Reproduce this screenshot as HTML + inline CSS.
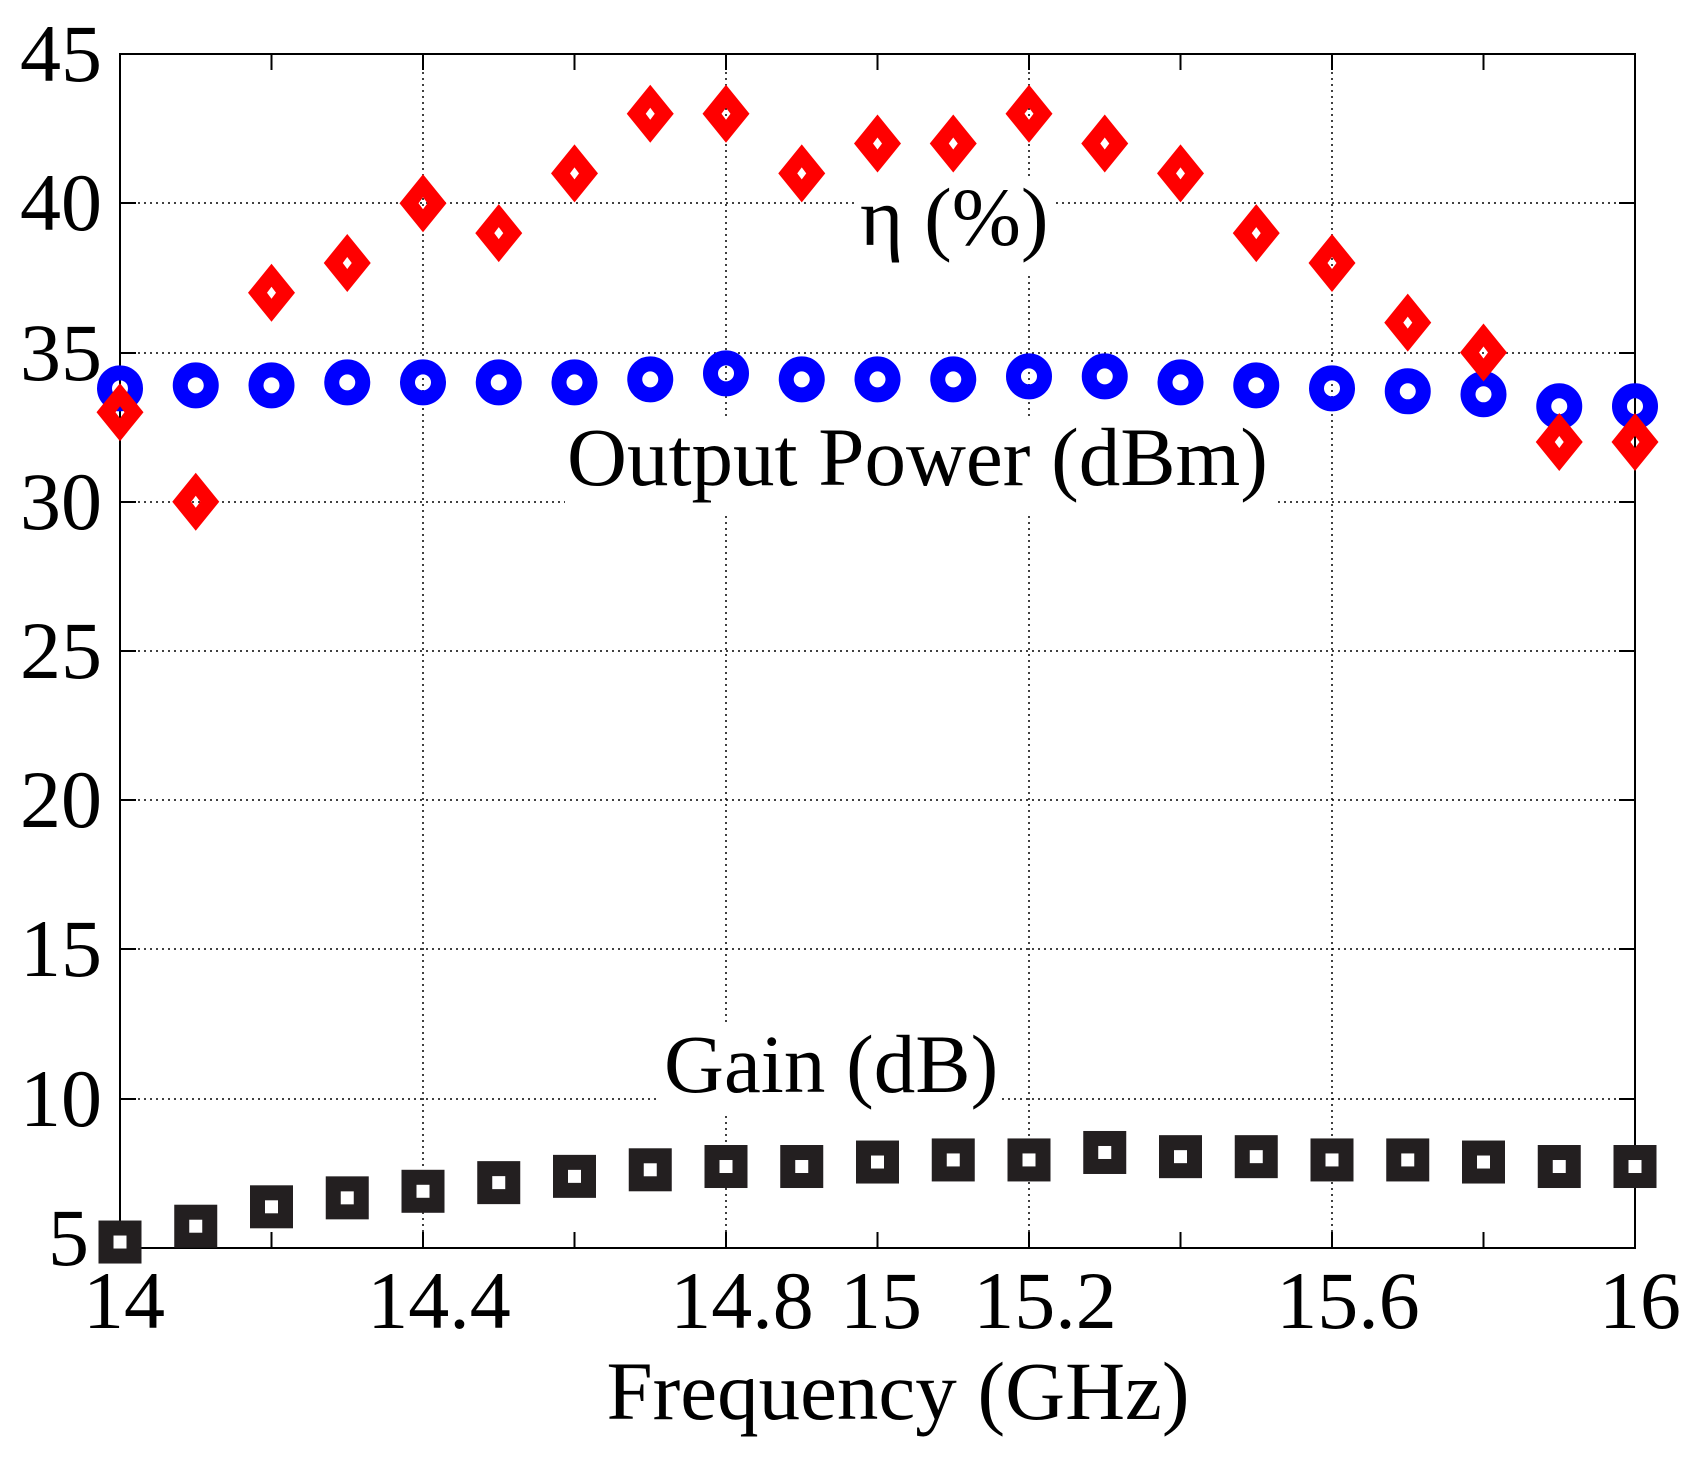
<!DOCTYPE html>
<html><head><meta charset="utf-8"><style>
html,body{margin:0;padding:0;background:#fff}
svg{display:block}
text{font-family:"Liberation Serif",serif;fill:#000}
</style></head><body>
<svg width="1702" height="1459" viewBox="0 0 1702 1459" xmlns="http://www.w3.org/2000/svg">
<rect width="1702" height="1459" fill="#fff"/>
<g stroke="#000" stroke-width="1.5" stroke-dasharray="2,4">
<line x1="120" y1="203" x2="1635" y2="203"/>
<line x1="120" y1="353" x2="1635" y2="353"/>
<line x1="120" y1="502" x2="1635" y2="502"/>
<line x1="120" y1="651" x2="1635" y2="651"/>
<line x1="120" y1="800" x2="1635" y2="800"/>
<line x1="120" y1="949" x2="1635" y2="949"/>
<line x1="120" y1="1099" x2="1635" y2="1099"/>
<line x1="423" y1="54" x2="423" y2="1248"/>
<line x1="726" y1="54" x2="726" y2="1248"/>
<line x1="1029" y1="54" x2="1029" y2="1248"/>
<line x1="1332" y1="54" x2="1332" y2="1248"/>
</g>
<g stroke="#000" stroke-width="2">
<rect x="120" y="54" width="1515" height="1194" fill="none"/>
<path d="M271.5 54v16M423 54v16M574.5 54v16M726 54v16M877.5 54v16M1029 54v16M1180.5 54v16M1332 54v16M1483.5 54v16
M271.5 1248v-16M423 1248v-16M574.5 1248v-16M726 1248v-16M877.5 1248v-16M1029 1248v-16M1180.5 1248v-16M1332 1248v-16M1483.5 1248v-16
M120 203h16M120 353h16M120 502h16M120 651h16M120 800h16M120 949h16M120 1099h16
M1635 203h-16M1635 353h-16M1635 502h-16M1635 651h-16M1635 800h-16M1635 949h-16M1635 1099h-16"/>
</g>
<g font-size="82" text-anchor="end">
<text x="102" y="81">45</text>
<text x="102" y="230">40</text>
<text x="102" y="380">35</text>
<text x="102" y="529">30</text>
<text x="102" y="678">25</text>
<text x="102" y="827">20</text>
<text x="102" y="976">15</text>
<text x="102" y="1126">10</text>
<text x="89" y="1265">5</text>
</g>
<g font-size="82" text-anchor="middle">
<text x="124" y="1328">14</text>
<text x="439" y="1328">14.4</text>
<text x="742" y="1328">14.8</text>
<text x="881" y="1328">15</text>
<text x="1045" y="1328">15.2</text>
<text x="1348" y="1328">15.6</text>
<text x="1640" y="1328">16</text>
<text x="898" y="1419" font-size="83">Frequency (GHz)</text>
</g>
<rect x="856" y="180" width="198" height="92" fill="#fff"/>
<text x="860" y="245" font-size="83">η (%)</text>
<rect x="565" y="420" width="710" height="92" fill="#fff"/>
<text x="567" y="485" font-size="83">Output Power (dBm)</text>
<rect x="660" y="1025" width="340" height="88" fill="#fff"/>
<text x="664" y="1092" font-size="83">Gain (dB)</text>
<g id="pts"></g>
<script>
(function(){
var g=document.getElementById('pts'),ns='http://www.w3.org/2000/svg';
var eta=[33,30,37,38,40,39,41,43,43,41,42,42,43,42,41,39,38,36,35,32,32];
var pw=[33.8,33.9,33.9,34.0,34.0,34.0,34.0,34.1,34.3,34.1,34.1,34.1,34.2,34.2,34.0,33.9,33.8,33.7,33.6,33.2,33.2];
var gn=[5.2,5.73,6.38,6.68,6.9,7.19,7.4,7.62,7.73,7.73,7.88,7.95,7.95,8.2,8.06,8.06,7.95,7.95,7.88,7.73,7.73];
function X(i){return 120+i*75.75}
function Y(v){return 54+(45-v)*29.85}
function el(t,a){var e=document.createElementNS(ns,t);for(var k in a)e.setAttribute(k,a[k]);g.appendChild(e);}
for(var i=0;i<21;i++){
var x=X(i),y=Y(gn[i]);
el('rect',{x:x-21.5,y:y-21.5,width:43,height:43,fill:'#231f20'});
el('rect',{x:x-6.5,y:y-6.5,width:13,height:13,fill:'#fff'});
}
for(var i=0;i<21;i++){
var x=X(i),y=Y(pw[i]);
el('circle',{cx:x,cy:y,r:15.5,fill:'none',stroke:'#0000ff','stroke-width':15});
}
for(var i=0;i<21;i++){
var x=X(i),y=Y(eta[i]);
el('path',{d:'M'+x+' '+(y-29)+'L'+(x+23.5)+' '+y+'L'+x+' '+(y+29)+'L'+(x-23.5)+' '+y+'Z M'+x+' '+(y-6)+'L'+(x-4.5)+' '+y+'L'+x+' '+(y+6)+'L'+(x+4.5)+' '+y+'Z',fill:'#ff0000','fill-rule':'evenodd'});
}
})();
</script>
</svg>
</body></html>
